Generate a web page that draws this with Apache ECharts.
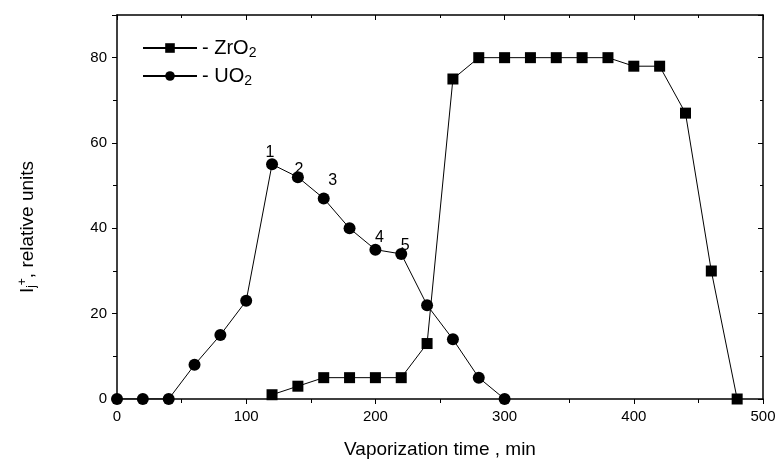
<!DOCTYPE html>
<html>
<head>
<meta charset="utf-8">
<script src="https://cdn.jsdelivr.net/npm/echarts@6/dist/echarts.min.js"></script>
<style>
html, body { margin: 0; padding: 0; background: #fff; }
#chart { width: 780px; height: 464px; }
</style>
</head>
<body>
<div id="chart"></div>
<script>
// vaporization time, min
var zrTime = [120, 140, 160, 180, 200, 220, 240, 260, 280, 300, 320, 340, 360, 380, 400, 420, 440, 460, 480];
var zrValues = [1, 3, 5, 5, 5, 5, 13, 75, 80, 80, 80, 80, 80, 80, 78, 78, 67, 30, 0];
var uoTime = [0, 20, 40, 60, 80, 100, 120, 140, 160, 180, 200, 220, 240, 260, 280, 300];
var uoValues = [0, 0, 0, 8, 15, 23, 55, 52, 47, 40, 35, 34, 22, 14, 5, 0];
// numbered points on the UO2 curve
var uoPointNames = ['', '', '', '', '', '', '1', '2', '3', '', '4', '5', '', '', '', ''];
var xTicks = [0, 100, 200, 300, 400, 500];
var yTicks = [0, 20, 40, 60, 80];

// label offsets for the numbered points
var numOffsets = {
	'1': [-2, 7],
	'2': [1, 11],
	'3': [9, 1],
	'4': [4, 7],
	'5': [4, 11]
};

var font = 'Liberation Sans, Arial, sans-serif';

function pairs(xs, ys) {
	return xs.map(function(x, i) { return [x, ys[i]]; });
}

var uoData = uoTime.map(function(x, i) {
	var name = uoPointNames[i];
	var item = { value: [x, uoValues[i]] };
	if (name) {
		item.label = {
			show: true,
			formatter: name,
			position: 'top',
			offset: numOffsets[name],
			color: '#000',
			fontSize: 16,
			fontFamily: font
		};
	}
	return item;
});

var frameAxis = {
	type: 'value',
	axisLine: { show: true, onZero: false, lineStyle: { color: '#000', width: 1.5 } },
	axisTick: { show: true, inside: true, length: 5, lineStyle: { color: '#000' } },
	minorTick: { show: true, splitNumber: 2, length: 3, lineStyle: { color: '#000' } },
	axisLabel: { show: false },
	splitLine: { show: false }
};

var chart = echarts.init(document.getElementById('chart'));

var option = {
	animation: false,
	backgroundColor: '#fff',
	grid: { left: 117, right: 17, top: 15, bottom: 65 },
	legend: {
		left: 137,
		top: 33,
		orient: 'vertical',
		itemWidth: 54,
		itemHeight: 12,
		itemGap: 6,
		data: ['ZrO2', 'UO2'],
		formatter: function(name) {
			return name === 'ZrO2' ? '- ZrO{sub|2}' : '- UO{sub|2}';
		},
		textStyle: {
			color: '#000',
			fontSize: 20,
			fontFamily: font,
			rich: {
				sub: { fontSize: 14, fontFamily: font, color: '#000', verticalAlign: 'bottom', padding: [10, 0, 0, 0] }
			}
		}
	},
	xAxis: [{
		type: 'value',
		min: 0,
		max: 500,
		interval: 100,
		name: 'Vaporization time , min',
		nameLocation: 'middle',
		nameGap: 41,
		nameTextStyle: { color: '#000', fontSize: 19, fontFamily: font },
		axisLine: { onZero: false, lineStyle: { color: '#000', width: 1.5 } },
		axisTick: { inside: false, length: 5, lineStyle: { color: '#000' } },
		minorTick: { show: true, splitNumber: 2, length: 4, lineStyle: { color: '#000' } },
		axisLabel: {
			color: '#000', fontSize: 15, fontFamily: font, margin: 10,
			formatter: function(v) { return xTicks.indexOf(v) >= 0 ? String(v) : ''; }
		},
		splitLine: { show: false }
	}, Object.assign({}, frameAxis, {
		position: 'top', min: 0, max: 500, interval: 100
	})],
	yAxis: [{
		type: 'value',
		min: 0,
		max: 90,
		interval: 20,
		name: 'I{sub|j}{sup|+}, relative units',
		nameLocation: 'middle',
		nameGap: 78,
		nameRotate: 90,
		nameTextStyle: {
			color: '#000', fontSize: 19, fontFamily: font,
			padding: [0, 40, 0, 0],
			rich: {
				sub: { fontSize: 12, fontFamily: font, color: '#000', padding: [8, 0, 0, 0] },
				sup: { fontSize: 12, fontFamily: font, color: '#000', padding: [0, 0, 10, 0] }
			}
		},
		axisLine: { onZero: false, lineStyle: { color: '#000', width: 1.5 } },
		axisTick: { inside: false, length: 5, lineStyle: { color: '#000' } },
		minorTick: { show: true, splitNumber: 2, length: 4, lineStyle: { color: '#000' } },
		axisLabel: {
			color: '#000', fontSize: 15, fontFamily: font, margin: 10, showMaxLabel: false,
			formatter: function(v) { return yTicks.indexOf(v) >= 0 ? String(v) : ''; }
		},
		splitLine: { show: false }
	}, Object.assign({}, frameAxis, {
		position: 'right', min: 0, max: 90, interval: 20
	})],
	series: [{
		name: 'ZrO2',
		type: 'line',
		data: pairs(zrTime, zrValues),
		symbol: 'rect',
		symbolSize: 11,
		itemStyle: { color: '#000' },
		lineStyle: { color: '#000', width: 1 },
		z: 3
	}, {
		name: 'UO2',
		type: 'line',
		data: uoData,
		symbol: 'circle',
		symbolSize: 12,
		itemStyle: { color: '#000' },
		lineStyle: { color: '#000', width: 1 },
		z: 4
	}]
};

chart.setOption(option);
</script>
</body>
</html>
